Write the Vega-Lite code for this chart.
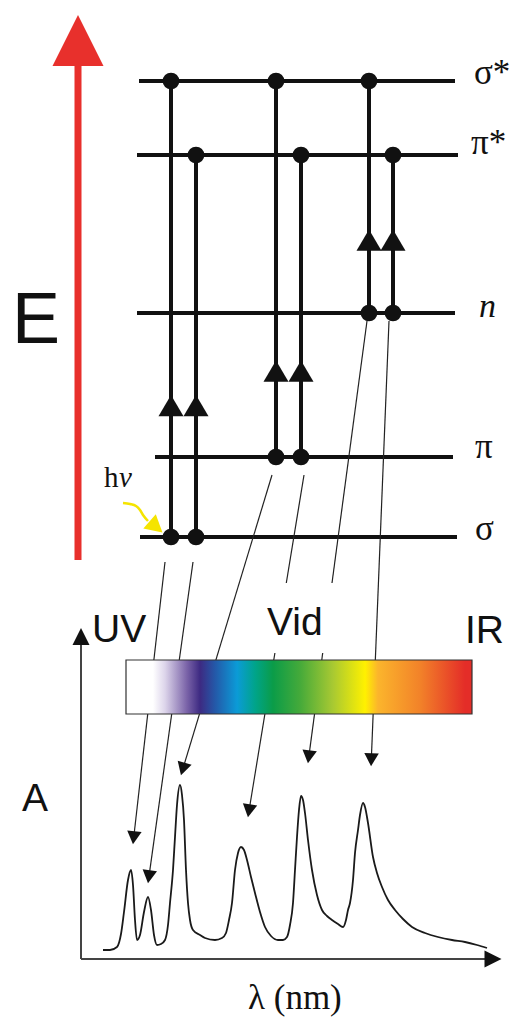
{
  "$schema": "https://vega.github.io/schema/vega-lite/v6.json",
  "width": 512,
  "height": 1026,
  "autosize": {"type": "fit", "contains": "padding"},
  "padding": 0,
  "background": "white",
  "config": {"view": {"stroke": null}},
  "datasets": {
    "levels": [
      {"x": 139, "x2": 455, "y": 81},
      {"x": 137, "x2": 458, "y": 155},
      {"x": 137, "x2": 455, "y": 313},
      {"x": 155, "x2": 453, "y": 457},
      {"x": 140, "x2": 457, "y": 537}
    ],
    "transitions": [
      {"x": 171, "y": 537, "y2": 81},
      {"x": 196, "y": 537, "y2": 155},
      {"x": 276, "y": 457, "y2": 81},
      {"x": 301, "y": 457, "y2": 155},
      {"x": 369, "y": 313, "y2": 81},
      {"x": 393, "y": 313, "y2": 155}
    ],
    "dots": [
      {"x": 171, "y": 81}, {"x": 171, "y": 537},
      {"x": 196, "y": 155}, {"x": 196, "y": 537},
      {"x": 276, "y": 81}, {"x": 276, "y": 457},
      {"x": 301, "y": 155}, {"x": 301, "y": 457},
      {"x": 369, "y": 81}, {"x": 369, "y": 313},
      {"x": 393, "y": 155}, {"x": 393, "y": 313}
    ],
    "vheads": [
      {"x": 171, "y": 405.5}, {"x": 196, "y": 405.5},
      {"x": 276, "y": 371}, {"x": 301, "y": 371},
      {"x": 369, "y": 240}, {"x": 393, "y": 240}
    ],
    "thin": [
      {"x": 165, "y": 562, "x2": 133.7, "y2": 837.7},
      {"x": 193, "y": 562, "x2": 148.9, "y2": 876.8},
      {"x": 272, "y": 475, "x2": 182.8, "y2": 769},
      {"x": 304, "y": 475, "x2": 286.3, "y2": 583},
      {"x": 274.9, "y": 653, "x2": 249, "y2": 810.8},
      {"x": 367, "y": 321, "x2": 332, "y2": 583},
      {"x": 322.7, "y": 653, "x2": 308.8, "y2": 756.8},
      {"x": 389, "y": 321, "x2": 371.3, "y2": 759.7}
    ],
    "thinheads": [
      {"x": 133.7, "y": 837.7, "a": 6.5},
      {"x": 148.9, "y": 876.8, "a": 8.0},
      {"x": 182.8, "y": 769, "a": 16.5},
      {"x": 249, "y": 810.8, "a": 9.3},
      {"x": 308.8, "y": 756.8, "a": 7.6},
      {"x": 371.3, "y": 759.7, "a": 2.3}
    ],
    "axes": [
      {"x": 81, "y": 640, "x2": 81, "y2": 959},
      {"x": 81, "y": 959, "x2": 490, "y2": 959}
    ],
    "axisheads": [
      {"x": 81, "y": 636.5, "a": 0},
      {"x": 493, "y": 959, "a": 90}
    ],
    "spectrum": [
      {"x": 103, "y": 950}, {"x": 110, "y": 950}, {"x": 117, "y": 947}, {"x": 121, "y": 934},
      {"x": 124, "y": 912}, {"x": 128, "y": 880}, {"x": 131, "y": 870}, {"x": 133, "y": 885},
      {"x": 135, "y": 920}, {"x": 137, "y": 940}, {"x": 140, "y": 935}, {"x": 144, "y": 912},
      {"x": 148, "y": 897}, {"x": 151, "y": 910}, {"x": 154, "y": 935}, {"x": 157, "y": 945},
      {"x": 161, "y": 944}, {"x": 165, "y": 940}, {"x": 168, "y": 925}, {"x": 170, "y": 903},
      {"x": 173, "y": 870}, {"x": 175, "y": 837}, {"x": 177, "y": 805}, {"x": 180, "y": 785},
      {"x": 182, "y": 795}, {"x": 184, "y": 820}, {"x": 186, "y": 870}, {"x": 188, "y": 903},
      {"x": 190, "y": 920}, {"x": 193, "y": 930}, {"x": 200, "y": 935}, {"x": 205, "y": 938},
      {"x": 215, "y": 940}, {"x": 222, "y": 938}, {"x": 226, "y": 933}, {"x": 229, "y": 920},
      {"x": 232, "y": 903}, {"x": 235, "y": 870}, {"x": 238, "y": 853}, {"x": 241, "y": 847},
      {"x": 244, "y": 850}, {"x": 247, "y": 860}, {"x": 251, "y": 877}, {"x": 255, "y": 893},
      {"x": 260, "y": 912}, {"x": 265, "y": 927}, {"x": 271, "y": 936}, {"x": 278, "y": 940},
      {"x": 283, "y": 940}, {"x": 287, "y": 937}, {"x": 290, "y": 925}, {"x": 293, "y": 903},
      {"x": 295, "y": 870}, {"x": 297, "y": 837}, {"x": 299, "y": 810}, {"x": 301, "y": 796},
      {"x": 303, "y": 800}, {"x": 305, "y": 813}, {"x": 308, "y": 840}, {"x": 312, "y": 870},
      {"x": 317, "y": 895}, {"x": 322, "y": 910}, {"x": 327, "y": 916}, {"x": 332, "y": 920},
      {"x": 338, "y": 924}, {"x": 343, "y": 927}, {"x": 346, "y": 920}, {"x": 348, "y": 910},
      {"x": 350, "y": 903}, {"x": 353, "y": 880}, {"x": 355, "y": 853}, {"x": 358, "y": 830},
      {"x": 360, "y": 815}, {"x": 363, "y": 803}, {"x": 365, "y": 807}, {"x": 368, "y": 823},
      {"x": 373, "y": 857}, {"x": 377, "y": 873}, {"x": 382, "y": 887}, {"x": 388, "y": 900},
      {"x": 395, "y": 910}, {"x": 403, "y": 919}, {"x": 412, "y": 927}, {"x": 425, "y": 933},
      {"x": 438, "y": 937}, {"x": 452, "y": 940}, {"x": 465, "y": 942}, {"x": 477, "y": 945},
      {"x": 487, "y": 948}
    ],
    "yellowcurve": [
      {"x": 123, "y": 503}, {"x": 130, "y": 504}, {"x": 136, "y": 506},
      {"x": 140, "y": 510}, {"x": 143, "y": 515}, {"x": 148, "y": 521}
    ],
    "levelLabels": [
      {"x": 474, "y": 84, "t": "σ*"},
      {"x": 471, "y": 154, "t": "π*"},
      {"x": 475, "y": 458, "t": "π"},
      {"x": 475, "y": 540, "t": "σ"}
    ],
    "sansLabels": [
      {"x": 92, "y": 642, "t": "UV"},
      {"x": 267, "y": 635, "t": "Vid"},
      {"x": 465, "y": 643, "t": "IR"},
      {"x": 22, "y": 811, "t": "A"}
    ]
  },
  "encoding": {
    "x": {"field": "x", "type": "quantitative", "scale": {"domain": [0, 512], "nice": false, "zero": false}, "axis": null},
    "y": {"field": "y", "type": "quantitative", "scale": {"domain": [0, 1026], "nice": false, "zero": false, "reverse": true}, "axis": null}
  },
  "layer": [
    {
      "data": {"values": [{"x": 78, "y": 62, "y2": 560}]},
      "mark": {"type": "rule", "color": "#e8302c", "strokeWidth": 7},
      "encoding": {"y2": {"field": "y2"}}
    },
    {
      "data": {"values": [{"x": 78, "y": 40.5}]},
      "mark": {"type": "point", "shape": "M0,-1L-1,1L1,1Z", "filled": true, "opacity": 1, "color": "#e8302c", "size": 2601, "strokeWidth": 0},
      "encoding": {}
    },
    {
      "data": {"name": "levels"},
      "mark": {"type": "rule", "color": "#111111", "strokeWidth": 4},
      "encoding": {"x2": {"field": "x2"}}
    },
    {
      "data": {"name": "transitions"},
      "mark": {"type": "rule", "color": "#111111", "strokeWidth": 4},
      "encoding": {"y2": {"field": "y2"}}
    },
    {
      "data": {"name": "dots"},
      "mark": {"type": "point", "shape": "circle", "filled": true, "opacity": 1, "color": "#111111", "size": 280, "strokeWidth": 0},
      "encoding": {}
    },
    {
      "data": {"name": "vheads"},
      "mark": {"type": "point", "shape": "M0,-0.85L-1,0.85L1,0.85Z", "filled": true, "opacity": 1, "color": "#111111", "size": 625, "strokeWidth": 0},
      "encoding": {}
    },
    {
      "data": {"name": "thin"},
      "mark": {"type": "rule", "color": "#222222", "strokeWidth": 1.2},
      "encoding": {"x2": {"field": "x2"}, "y2": {"field": "y2"}}
    },
    {
      "data": {"name": "thinheads"},
      "mark": {"type": "point", "shape": "M-1,-0.9L1,-0.9L0,0.9Z", "filled": true, "opacity": 1, "color": "#111111", "size": 210, "strokeWidth": 0},
      "encoding": {"angle": {"field": "a", "type": "quantitative", "scale": null}}
    },
    {
      "data": {"values": [{"x": 126, "x2": 472, "y": 660, "y2": 714}]},
      "mark": {
        "type": "rect",
        "stroke": "#333333",
        "strokeWidth": 1.2,
        "fill": {
          "gradient": "linear", "x1": 0, "y1": 0, "x2": 1, "y2": 0,
          "stops": [
            {"offset": 0, "color": "#ffffff"},
            {"offset": 0.078, "color": "#ffffff"},
            {"offset": 0.113, "color": "#dcd4ea"},
            {"offset": 0.176, "color": "#7a63a8"},
            {"offset": 0.214, "color": "#3d2a82"},
            {"offset": 0.257, "color": "#2458a8"},
            {"offset": 0.321, "color": "#0b9bd7"},
            {"offset": 0.373, "color": "#00a48a"},
            {"offset": 0.425, "color": "#0b9c48"},
            {"offset": 0.503, "color": "#45aa3a"},
            {"offset": 0.598, "color": "#a8c932"},
            {"offset": 0.691, "color": "#fff100"},
            {"offset": 0.728, "color": "#fbb52c"},
            {"offset": 0.85, "color": "#f28229"},
            {"offset": 0.98, "color": "#e42d28"},
            {"offset": 1, "color": "#e42d28"}
          ]
        }
      },
      "encoding": {"x2": {"field": "x2"}, "y2": {"field": "y2"}}
    },
    {
      "data": {"name": "axes"},
      "mark": {"type": "rule", "color": "#444444", "strokeWidth": 2},
      "encoding": {"x2": {"field": "x2"}, "y2": {"field": "y2"}}
    },
    {
      "data": {"name": "axisheads"},
      "mark": {"type": "point", "shape": "M0,-1L-1,1L1,1Z", "filled": true, "opacity": 1, "color": "#111111", "size": 289, "strokeWidth": 0},
      "encoding": {"angle": {"field": "a", "type": "quantitative", "scale": null}}
    },
    {
      "data": {"name": "spectrum"},
      "mark": {"type": "line", "color": "#1a1a1a", "strokeWidth": 1.8, "interpolate": "monotone"},
      "encoding": {}
    },
    {
      "data": {"name": "yellowcurve"},
      "mark": {"type": "line", "color": "#f5e400", "strokeWidth": 2.5, "interpolate": "monotone"},
      "encoding": {}
    },
    {
      "data": {"values": [{"x": 156, "y": 527, "a": -49}]},
      "mark": {"type": "point", "shape": "M-1,-0.9L1,-0.9L0,0.9Z", "filled": true, "opacity": 1, "color": "#f5e400", "size": 361, "strokeWidth": 0},
      "encoding": {"angle": {"field": "a", "type": "quantitative", "scale": null}}
    },
    {
      "data": {"values": [{"x": 12, "y": 343, "t": "E"}]},
      "mark": {"type": "text", "font": "Liberation Sans", "fontSize": 72, "align": "left", "baseline": "alphabetic", "color": "#111111"},
      "encoding": {"text": {"field": "t"}}
    },
    {
      "data": {"name": "sansLabels"},
      "mark": {"type": "text", "font": "Liberation Sans", "fontSize": 39, "align": "left", "baseline": "alphabetic", "color": "#111111"},
      "encoding": {"text": {"field": "t"}}
    },
    {
      "data": {"name": "levelLabels"},
      "mark": {"type": "text", "font": "Liberation Serif", "fontSize": 35, "align": "left", "baseline": "alphabetic", "color": "#111111"},
      "encoding": {"text": {"field": "t"}}
    },
    {
      "data": {"values": [{"x": 479, "y": 317, "t": "n"}]},
      "mark": {"type": "text", "font": "Liberation Serif", "fontSize": 34, "fontStyle": "italic", "align": "left", "baseline": "alphabetic", "color": "#111111"},
      "encoding": {"text": {"field": "t"}}
    },
    {
      "data": {"values": [{"x": 104, "y": 487, "t": "h"}]},
      "mark": {"type": "text", "font": "Liberation Serif", "fontSize": 29, "align": "left", "baseline": "alphabetic", "color": "#111111"},
      "encoding": {"text": {"field": "t"}}
    },
    {
      "data": {"values": [{"x": 119, "y": 487, "t": "ν"}]},
      "mark": {"type": "text", "font": "Liberation Serif", "fontSize": 29, "fontStyle": "italic", "align": "left", "baseline": "alphabetic", "color": "#111111"},
      "encoding": {"text": {"field": "t"}}
    },
    {
      "data": {"values": [{"x": 248, "y": 1009, "t": "λ (nm)"}]},
      "mark": {"type": "text", "font": "Liberation Serif", "fontSize": 35, "align": "left", "baseline": "alphabetic", "color": "#111111"},
      "encoding": {"text": {"field": "t"}}
    }
  ]
}
